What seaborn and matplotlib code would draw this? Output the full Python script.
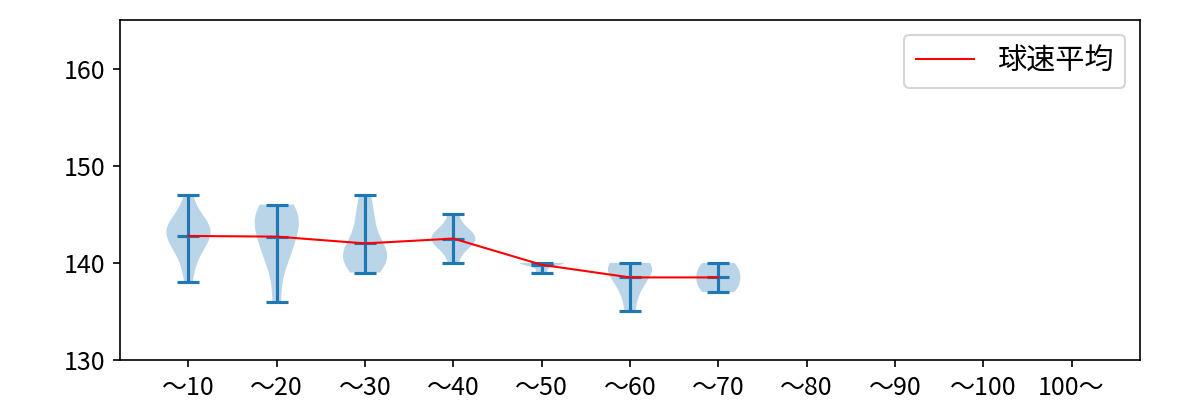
import numpy as np
import pandas as pd
import matplotlib
matplotlib.use("Agg")
import matplotlib.pyplot as plt
import seaborn as sns

plt.rcParams['font.family'] = ['Noto Sans CJK JP', 'DejaVu Sans']

categories = ["〜10", "〜20", "〜30", "〜40", "〜50", "〜60", "〜70", "〜80", "〜90", "〜100", "100〜"]
speeds_10 = [138, 140, 141, 142, 142, 143, 143, 143, 144, 144, 144, 145, 147]
speeds_20 = [136, 140, 141, 142, 143, 144, 145, 145, 145, 146]
speeds_30 = [139, 140, 140, 141, 141, 141, 142, 145, 144, 147]
speeds_40 = [140, 142, 142, 142, 143, 143, 143, 145]
speeds_50 = [139, 140, 140, 140, 140]
speeds_60 = [135, 137, 138, 139, 139, 140, 140, 140]
speeds_70 = [137, 138, 139, 140]
speeds_80 = []
speeds_90 = []
speeds_100 = []
speeds_100p = []

all_speeds = [speeds_10, speeds_20, speeds_30, speeds_40, speeds_50, speeds_60,
              speeds_70, speeds_80, speeds_90, speeds_100, speeds_100p]

fig, ax = plt.subplots(figsize=(8, 8 / 3), dpi=150)
fig.subplots_adjust(left=0.1, right=0.95, top=0.95, bottom=0.1)

positions = [i + 1 for i, d in enumerate(all_speeds) if len(d) > 1]
data = [d for d in all_speeds if len(d) > 1]
ax.violinplot(data, positions=positions, showmeans=True, showextrema=True)

mean_df = pd.DataFrame({"pos": positions, "mean": [np.mean(d) for d in data]})
sns.lineplot(data=mean_df, x="pos", y="mean", color="red", linewidth=1.0,
             label="球速平均", ax=ax)

ax.set_xlim(0.225, 11.775)
ax.set_ylim(130, 165)
ax.set_yticks([130, 140, 150, 160])
ax.set_xticks(range(1, len(categories) + 1))
ax.set_xticklabels(categories)
ax.tick_params(labelsize=12)
ax.set_xlabel("")
ax.set_ylabel("")
ax.legend(loc="upper right", fontsize=14)

fig.savefig("out.png", dpi=150)
